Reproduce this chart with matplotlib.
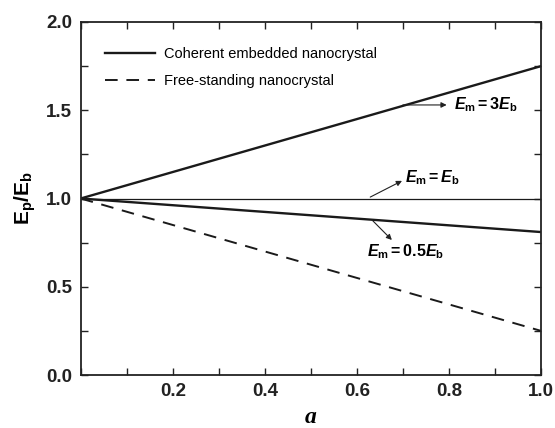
import matplotlib
matplotlib.use("Agg")
import matplotlib.pyplot as plt
import numpy as np
from matplotlib.ticker import MultipleLocator

plt.rcParams['font.family'] = ['Liberation Sans', 'DejaVu Sans']
plt.rcParams['mathtext.fontset'] = 'custom'
plt.rcParams['mathtext.rm'] = 'Liberation Sans'
plt.rcParams['mathtext.it'] = 'Liberation Sans:italic'
plt.rcParams['mathtext.bf'] = 'Liberation Sans:bold'
plt.rcParams['mathtext.bfit'] = 'Liberation Sans:bold:italic'

a = [0.0, 1.0]
emb_3 = [1.0, 1.75]
emb_1 = [1.0, 1.0]
emb_05 = [1.0, 0.81]
free = [1.0, 0.25]

fig = plt.figure(figsize=(5.55, 4.28), dpi=100)
ax = fig.add_axes([80.7/555, 1 - 375/428, (541 - 80.7)/555, (375 - 22)/428])

ax.plot(a, emb_3, color='#1a1a1a', lw=1.7, label='Coherent embedded nanocrystal')
ax.plot(a, emb_1, color='#1a1a1a', lw=0.9)
ax.plot(a, emb_05, color='#1a1a1a', lw=1.7)
ax.plot(a, free, color='#1a1a1a', lw=1.4, ls=(0, (6.5, 4.5)), label='Free-standing nanocrystal')

ax.set_xlim(0, 1.0)
ax.set_ylim(0, 2.0)
ax.xaxis.set_minor_locator(MultipleLocator(0.1))
ax.yaxis.set_major_locator(MultipleLocator(0.5))
ax.yaxis.set_minor_locator(MultipleLocator(0.25))
ax.set_xticks([0.2, 0.4, 0.6, 0.8, 1.0])
ax.set_xticklabels(['0.2', '0.4', '0.6', '0.8', '1.0'])
ax.tick_params(which='both', direction='in', top=True, right=True, width=1.0, color='#222')
ax.tick_params(which='major', length=5)
ax.tick_params(which='minor', length=5)
for lab in ax.get_xticklabels() + ax.get_yticklabels():
    lab.set_fontweight('bold')
    lab.set_fontsize(13.5)
    lab.set_color('#222')
ax.tick_params(axis='x', pad=6)
ax.tick_params(axis='y', pad=6)
for s in ax.spines.values():
    s.set_linewidth(1.3)
    s.set_color('#222')

ax.set_xlabel('a', fontsize=17, fontstyle='italic', fontweight='bold',
              family=['Liberation Serif', 'DejaVu Serif'], labelpad=5)
ax.set_ylabel(r'$\mathbf{E_p/E_b}$', fontsize=15, labelpad=6)

leg = ax.legend(loc='upper left', bbox_to_anchor=(0.025, 0.965), frameon=False,
                fontsize=10.5, handlelength=3.4, handletextpad=0.6, labelspacing=0.85)

arr = dict(arrowstyle='-|>', color='#222', lw=0.8, shrinkA=0, shrinkB=0, mutation_scale=8)
ax.annotate('', xy=(0.795, 1.53), xytext=(0.70, 1.53), arrowprops=arr)
ax.text(0.81, 1.53, r'$\mathbfit{E}_\mathbf{m}{\mathbf{=}}\mathbf{3}\mathbfit{E}_\mathbf{b}$',
        fontsize=11.5, va='center', ha='left')
ax.annotate('', xy=(0.698, 1.10), xytext=(0.629, 1.008), arrowprops=arr)
ax.text(0.705, 1.12, r'$\mathbfit{E}_\mathbf{m}{\mathbf{=}}\mathbfit{E}_\mathbf{b}$',
        fontsize=11.5, va='center', ha='left')
ax.annotate('', xy=(0.676, 0.765), xytext=(0.633, 0.878), arrowprops=arr)
ax.text(0.622, 0.70, r'$\mathbfit{E}_\mathbf{m}{\mathbf{=}}\mathbf{0.5}\mathbfit{E}_\mathbf{b}$',
        fontsize=11.5, va='center', ha='left')

fig.savefig('out.png', dpi=100)
